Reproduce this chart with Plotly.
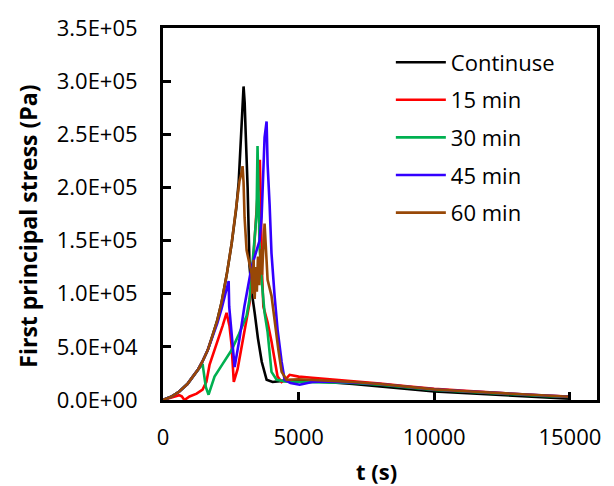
import plotly.graph_objects as go

# ---------------- data ----------------
names = ["Continuse", "15 min", "30 min", "45 min", "60 min"]
colors = ["#000000", "#FF0000", "#00B050", "#3300FF", "#984807"]

t_cont = [0, 300, 600, 900, 1100, 1300, 1450, 1650, 1830, 2000, 2160, 2350, 2530, 2700, 2790, 2860,
          2920, 2970, 3010, 3050, 3120, 3190, 3280, 3380, 3500, 3640, 3820, 4040, 4400, 5000, 6000,
          7000, 8000, 9000, 10000, 11000, 12000, 13000, 14000, 15000]
v_cont = [0, 3000, 8000, 15000, 22000, 29000, 36000, 47000, 61000, 75000, 92000, 118000, 147000,
          180000, 205000, 235000, 270000, 295000, 280000, 250000, 200000, 126000, 100000, 82000,
          58000, 36000, 19000, 17000, 18000, 18000, 17000, 15000, 13000, 10500, 8000, 6500, 5000,
          3500, 2200, 1200]

t_15 = [0, 300, 600, 690, 790, 980, 1240, 1460, 1600, 1715, 1975, 2200, 2343, 2450, 2528, 2610,
        2750, 2934, 3050, 3192, 3300, 3420, 3500, 3570, 3610, 3650, 3700, 3780, 3856, 4000, 4114,
        4225, 4373, 4500, 4668, 5000, 5500, 6000, 7000, 8000, 9000, 10000, 11000, 12000, 13000,
        14000, 15000]
v_15 = [0, 2500, 4500, 3500, 0, 3300, 6000, 9800, 17000, 33000, 52000, 70000, 82000, 70000, 51600,
        17000, 29000, 54000, 72000, 91500, 120000, 165000, 200000, 226000, 180000, 120000, 88000,
        80000, 73000, 55000, 38600, 22000, 17000, 19000, 23700, 22000, 21000, 20000, 18000, 15500,
        13000, 10500, 8800, 7200, 5700, 4200, 3200]

t_30 = [0, 300, 600, 900, 1100, 1300, 1460, 1480, 1580, 1680, 1900, 2200, 2530, 2800, 3081, 3192,
        3302, 3400, 3450, 3485, 3520, 3560, 3635, 3745, 3856, 4000, 4190, 4500, 5000, 6000, 7000,
        8000, 9000, 10000, 11000, 12000, 13000, 14000, 15000]
v_30 = [0, 3000, 8000, 15000, 22000, 29000, 34000, 30000, 12000, 5000, 22000, 34000, 47000, 62000,
        79000, 95000, 126000, 160000, 175000, 239000, 205000, 144000, 113000, 82000, 64000, 26500,
        19000, 17500, 17000, 16500, 16000, 14500, 12000, 9500, 8000, 6500, 5000, 3800, 2800]

t_45 = [0, 300, 600, 900, 1100, 1300, 1450, 1650, 1830, 2000, 2160, 2350, 2420, 2440, 2530, 2640,
        2823, 3000, 3265, 3560, 3635, 3700, 3745, 3819, 3856, 3930, 3967, 4000, 4114, 4225, 4373,
        4483, 4700, 5040, 5500, 6000, 7000, 8000, 9000, 10000, 11000, 12000, 13000, 14000, 15000]
v_45 = [0, 3000, 8000, 15000, 22000, 29000, 36000, 47000, 60000, 72000, 86000, 104000, 112000,
        88000, 60000, 31000, 58000, 88000, 125000, 150000, 172000, 215000, 247000, 262000, 222000,
        184000, 166000, 138000, 98000, 66000, 36000, 19000, 16000, 14400, 17000, 17500, 16500,
        15000, 12500, 10000, 8500, 7000, 5500, 4000, 3000]

t_60 = [0, 300, 600, 900, 1100, 1300, 1450, 1650, 1830, 2000, 2160, 2350, 2530, 2700, 2820, 2880,
        2934, 2970, 3007, 3081, 3180, 3265, 3300, 3340, 3380, 3420, 3460, 3500, 3550, 3600, 3650,
        3700, 3745, 3800, 3856, 4000, 4114, 4250, 4373, 4557, 5000, 6000, 7000, 8000, 9000, 10000,
        11000, 12000, 13000, 14000, 15000]
v_60 = [0, 3000, 8000, 15000, 22000, 29000, 36000, 47000, 61000, 75000, 92000, 118000, 147000,
        180000, 206000, 212000, 220000, 205000, 172000, 141000, 128000, 119000, 100000, 132000,
        95000, 125000, 102000, 135000, 108000, 142000, 118000, 152000, 166000, 140000, 113000,
        98000, 73000, 48000, 26500, 19000, 19500, 18500, 17000, 15000, 12500, 10000, 8500, 7000,
        5500, 4000, 3000]

x_ticks = [0, 5000, 10000, 15000]
x_tick_text = ["0", "5000", "10000", "15000"]
y_ticks = [0, 50000, 100000, 150000, 200000, 250000, 300000, 350000]
y_tick_text = ["0.0E+00", "5.0E+04", "1.0E+05", "1.5E+05", "2.0E+05", "2.5E+05", "3.0E+05", "3.5E+05"]

series_t = [t_cont, t_15, t_30, t_45, t_60]
series_v = [v_cont, v_15, v_30, v_45, v_60]

# ---------------- figure ----------------
FONT = "Open Sans"
fig = go.Figure()
for name, color, t, v in zip(names, colors, series_t, series_v):
    fig.add_trace(go.Scatter(x=t, y=v, mode="lines", name=name, legendgroup=name,
                             line=dict(color=color, width=2.6)))

axis_common = dict(showline=True, linecolor="black", linewidth=3, mirror=True,
                   ticks="inside", ticklen=8, tickwidth=2.5, tickcolor="black",
                   showgrid=False, zeroline=False,
                   tickfont=dict(family=FONT, size=22, color="black"))

fig.update_xaxes(range=[0, 16000], tickvals=x_ticks, ticktext=x_tick_text,
                 ticklabelstandoff=16, **axis_common)
fig.update_yaxes(range=[0, 350000], tickvals=y_ticks, ticktext=y_tick_text,
                 ticklabelstandoff=18, **axis_common)

fig.update_layout(
    width=614, height=486,
    margin=dict(l=163, r=17, t=21, b=86),
    paper_bgcolor="white", plot_bgcolor="white",
    showlegend=True,
    legend=dict(x=0.525, y=0.964, xanchor="left", yanchor="top",
                font=dict(family=FONT, size=22, color="black"),
                bgcolor="rgba(0,0,0,0)", tracegroupgap=6, itemwidth=50),
    annotations=[
        dict(text="<b>First principal stress (Pa)</b>", textangle=-90,
             xref="paper", yref="paper", x=-0.311, y=0.466,
             xanchor="center", yanchor="middle", showarrow=False,
             font=dict(family=FONT, size=23, color="black")),
        dict(text="<b>t (s)</b>", xref="paper", yref="paper", x=0.493, y=-0.19,
             xanchor="center", yanchor="middle", showarrow=False,
             font=dict(family=FONT, size=22, color="black")),
    ],
)

fig.write_html("out.html")
